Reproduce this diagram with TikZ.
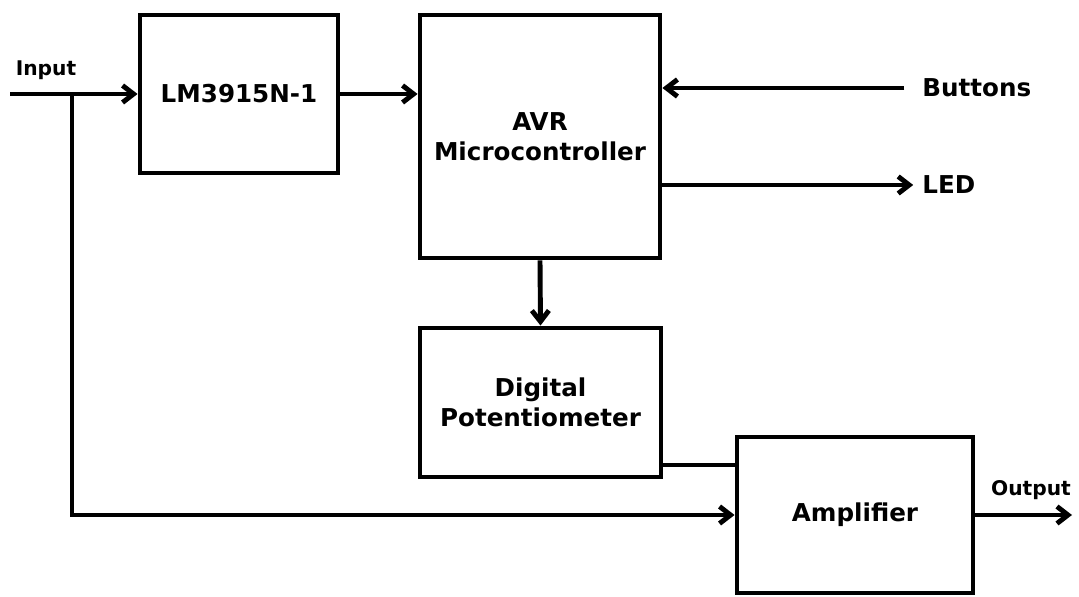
\documentclass[tikz,border=0pt]{standalone}
\usepackage{fontspec}
\setmainfont{DejaVu Sans}
\usetikzlibrary{arrows.meta,calc,positioning}

\tikzset{
  block/.style={draw,line width=2.8pt,align=center,font=\fontsize{14}{17}\selectfont\bfseries},
  sig/.style={line width=2.8pt},
  tip/.style={-{Straight Barb[length=2.2mm,width=3.4mm]}},
  lbl/.style={font=\fontsize{14}{17}\selectfont\bfseries,inner sep=0pt},
  small/.style={font=\fontsize{11.5}{14}\selectfont\bfseries,inner sep=0pt}
}

\begin{document}
\begin{tikzpicture}[x=0.02cm,y=-0.02cm]
	  \useasboundingbox (0,0) rectangle (1079,597);

	  \node[block,minimum width=3.96cm,minimum height=3.16cm] (lm)  at (239,94)    {LM3915N-1};
	  \node[block,minimum width=4.8cm,minimum height=4.86cm]  (avr) at (540,136.5) {AVR\\Microcontroller};
	  \node[block,minimum width=4.82cm,minimum height=2.98cm] (dp)  at (540.5,402.5) {Digital\\Potentiometer};
	  \node[block,minimum width=4.72cm,minimum height=3.12cm] (amp) at (855,515)   {Amplifier};

	  \node[small] (inlbl)  at (46,70)    {Input};
	  \node[small] (outlbl) at (1031,490) {Output};
	  \node[lbl,anchor=west] (btn) at (922,88)  {Buttons};
	  \node[lbl,anchor=west] (led) at (922,185) {LED};

	  \coordinate (in)  at (10,94);
	  \coordinate (tap) at (72,94);
	  \coordinate (out) at (1072,515);

	  % signal path
	  \draw[sig,tip] (in) -- (lm.west);
	  \draw[sig,tip] (lm.east) -- (lm.east -| avr.west);
	  \draw[sig,tip,shorten <=10pt] (btn.west) -- (btn.west -| avr.east);
	  \draw[sig,tip,shorten >=5pt] (avr.east |- led.west) -- (led.west);
	  \draw[sig,tip] (avr.south) -- (dp.north);
	  \draw[sig] (dp.east |- 0,465) -- (amp.west |- 0,465);
	  \draw[sig,tip] (tap) |- (amp.west);
	  \draw[sig,tip] (amp.east) -- (out);
\end{tikzpicture}
\end{document}
